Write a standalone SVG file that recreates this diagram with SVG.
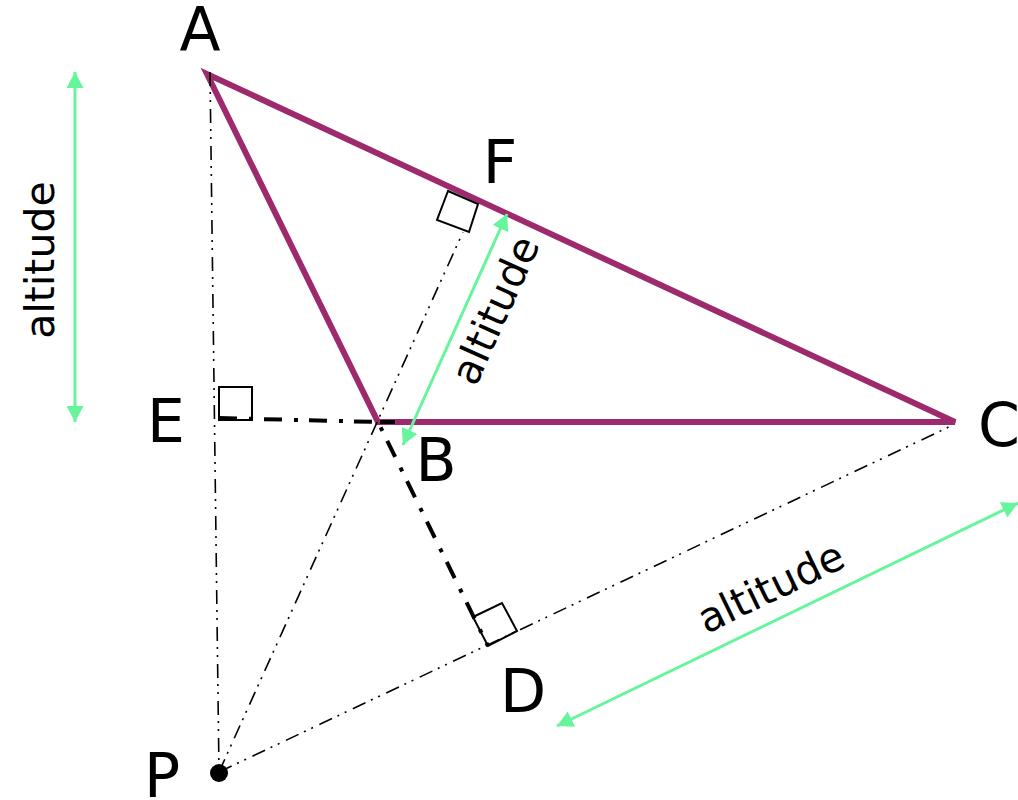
<svg xmlns="http://www.w3.org/2000/svg" width="1018" height="800" viewBox="0 0 1018 800">
<style>
.lbl{font-family:"DejaVu Sans","Liberation Sans",sans-serif;font-size:60px;fill:#000;text-anchor:middle}
.alt{font-family:"DejaVu Sans","Liberation Sans",sans-serif;font-size:41px;fill:#000;text-anchor:middle}
.thin{fill:none;stroke:#000;stroke-width:1.6;stroke-dasharray:14 6 2 6 2 7}
.thick{fill:none;stroke:#000;stroke-width:4;stroke-dasharray:18 12 4 11}
.sq{fill:none;stroke:#000;stroke-width:2}
.arr{fill:none;stroke:#66f59c;stroke-width:3;marker-start:url(#ah);marker-end:url(#ah)}
</style>
<defs>
<marker id="ah" markerUnits="userSpaceOnUse" markerWidth="18" markerHeight="18" refX="16" refY="8.5" orient="auto-start-reverse">
<path d="M0,0 L16,8.5 L0,17 z" fill="#66f59c"/>
</marker>
</defs>
<rect width="1018" height="800" fill="#fff"/>
<g id="triangle">
<polygon points="207,74 378,422 955,422" fill="none" stroke="#9c2a6c" stroke-width="6"/>
</g>
<g id="connectors">
<line class="thin" x1="210" y1="72" x2="219" y2="772"/>
<line class="thin" x1="219" y1="772" x2="463" y2="232"/>
<line class="thin" x1="219" y1="772" x2="953" y2="425"/>
<polyline class="thick" points="219,418 378,422 488,646"/>
<line x1="380" y1="422" x2="395" y2="422" stroke="#000" stroke-width="4"/>
<line class="arr" x1="75" y1="72" x2="75" y2="422"/>
<line class="arr" x1="507" y1="214" x2="403" y2="445"/>
<line class="arr" x1="1018" y1="503" x2="557" y2="726"/>
</g>
<g id="right-angles">
<rect class="sq" x="219" y="387" width="33" height="33"/>
<polygon class="sq" points="448,191 478,204 469,232 437,220"/>
<polygon class="sq" points="473,617 502,603 517,631 488,646"/>
</g>
<g id="point-P">
<circle cx="219" cy="773" r="9" fill="#000"/>
</g>
<g id="labels">
<text class="lbl" x="200" y="50">A</text>
<text class="lbl" x="500" y="183">F</text>
<text class="lbl" x="166" y="442">E</text>
<text class="lbl" x="436" y="481">B</text>
<text class="lbl" x="999" y="446">C</text>
<text class="lbl" x="523" y="712">D</text>
<text class="lbl" x="162" y="797">P</text>
<text class="alt" transform="translate(54,260) rotate(-90)">altitude</text>
<text class="alt" transform="translate(508,316) rotate(-65.8)">altitude</text>
<text class="alt" transform="translate(777,600) rotate(-25.8)">altitude</text>
</g>
</svg>
